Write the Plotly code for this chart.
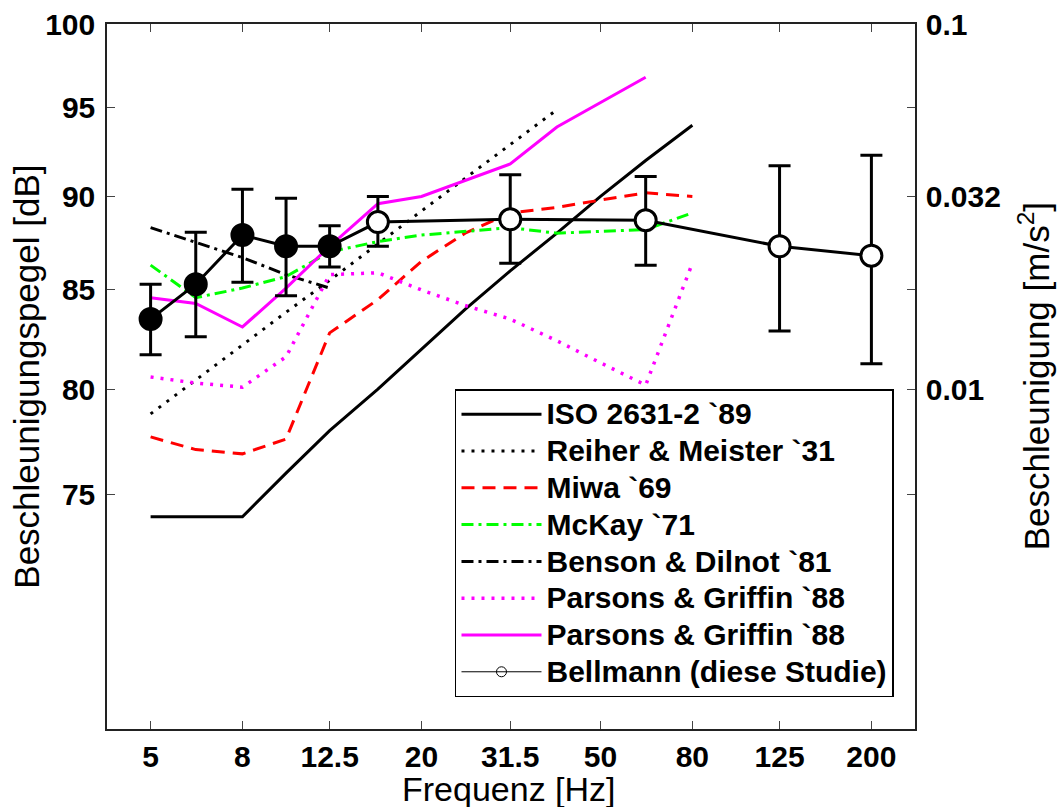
import plotly.graph_objects as go
import numpy as np

# ---------------- data ----------------
freq_13 = [5, 6.3, 8, 10, 12.5, 16, 20, 25, 31.5, 40, 50, 63, 80]

iso_freq = freq_13
iso_db = [74, 74, 74, 76, 78, 80, 82, 84, 86, 88, 90, 92, 94]

reiher_freq = [5, 6.3, 8, 10, 12.5, 16, 20, 25, 31.5, 40]
reiher_db = [78.8, 80.45, 82.2, 83.85, 85.5, 87.4, 89.2, 91.0, 92.9, 94.9]

miwa_freq = freq_13
miwa_db = [77.7, 77.1, 76.9, 77.6, 82.8, 84.5, 86.5, 88.0, 89.1, 89.4, 89.8, 90.2, 90.0]

mckay_freq = freq_13
mckay_db = [86.3, 84.6, 85.1, 85.7, 87.0, 87.55, 87.9, 88.1, 88.3, 88.0, 88.1, 88.2, 89.1]

benson_freq = [5, 6.3, 8, 10, 12.5]
benson_db = [88.3, 87.5, 86.7, 85.8, 85.1]

pg_dot_freq = freq_13
pg_dot_db = [80.6, 80.3, 80.1, 81.6, 85.8, 85.9, 85.0, 84.2, 83.5, 82.4, 81.3, 80.2, 86.4]

pg_sol_freq = [5, 6.3, 8, 10, 12.5, 16, 20, 25, 31.5, 40, 50, 63]
pg_sol_db = [84.6, 84.3, 83.1, 85.1, 87.3, 89.6, 90.0, 90.9, 91.8, 93.9, 95.3, 96.8]

bell_freq = [5, 6.3, 8, 10, 12.5, 16, 31.5, 63, 125, 200]
bell_db = [83.5, 85.3, 87.9, 87.3, 87.3, 88.6, 88.75, 88.7, 87.3, 86.8]
bell_hi = [85.3, 88.05, 90.4, 89.9, 88.4, 90.0, 91.2, 91.1, 91.7, 92.3]
bell_lo = [81.7, 82.6, 85.4, 84.7, 86.2, 87.3, 86.4, 86.3, 82.9, 81.25]
bell_filled = [True, True, True, True, True, False, False, False, False, False]

x_ticks = [5, 8, 12.5, 20, 31.5, 50, 80, 125, 200]
x_ticktext = ["5", "8", "12.5", "20", "31.5", "50", "80", "125", "200"]
y_ticks = [75, 80, 85, 90, 95, 100]
y2_ticktext = ["", "0.01", "", "0.032", "", "0.1"]

legend_names = ["ISO 2631-2 `89", "Reiher & Meister `31", "Miwa `69", "McKay `71",
                "Benson & Dilnot `81", "Parsons & Griffin `88", "Parsons & Griffin `88",
                "Bellmann (diese Studie)"]

# ---------------- figure ----------------
FONT = "Liberation Sans, Arial, Helvetica, sans-serif"
fig = go.Figure()

def lg(name):
    # legend label, drawn slightly larger than the legend row font
    return '<span style="font-size:30px">' + name + '</span>'

def line_trace(x, y, name, color, dash, width=3):
    return go.Scatter(x=x, y=y, name=lg(name), mode="lines",
                      line=dict(color=color, width=width, dash=dash))

fig.add_trace(line_trace(iso_freq, iso_db, legend_names[0], "black", "solid"))
fig.add_trace(line_trace(reiher_freq, reiher_db, legend_names[1], "black", "3px,7px"))
fig.add_trace(line_trace(miwa_freq, miwa_db, legend_names[2], "#FF0000", "13px,8px"))
fig.add_trace(line_trace(mckay_freq, mckay_db, legend_names[3], "#00FF00", "12px,5px,3px,5px"))
fig.add_trace(line_trace(benson_freq, benson_db, legend_names[4], "black", "12px,5px,3px,5px"))
fig.add_trace(line_trace(pg_dot_freq, pg_dot_db, legend_names[5], "#FF00FF", "3px,7px", 3.5))
fig.add_trace(line_trace(pg_sol_freq, pg_sol_db, legend_names[6], "#FF00FF", "solid"))

err_plus = [h - v for h, v in zip(bell_hi, bell_db)]
err_minus = [v - l for v, l in zip(bell_db, bell_lo)]
fig.add_trace(go.Scatter(
    x=bell_freq, y=bell_db, mode="lines+markers", showlegend=False,
    line=dict(color="black", width=3),
    marker=dict(size=21, symbol="circle",
                color=["black" if f else "white" for f in bell_filled],
                line=dict(color="black", width=3)),
    error_y=dict(type="data", symmetric=False, array=err_plus, arrayminus=err_minus,
                 color="black", thickness=3, width=11),
))
# legend entry for Bellmann (thin line, small open circle)
fig.add_trace(go.Scatter(x=[None], y=[None], name=lg(legend_names[7]), mode="lines+markers",
                         line=dict(color="black", width=1),
                         marker=dict(symbol="circle-open", size=10, color="black",
                                     line=dict(width=1))))
# dummy trace to activate right axis
fig.add_trace(go.Scatter(x=[None], y=[None], yaxis="y2", showlegend=False, hoverinfo="skip"))

yr = [np.log10(65), 2]
common_ax = dict(ticks="inside", ticklen=8, tickwidth=1, tickcolor="#444",
                 showline=True, linecolor="#222", linewidth=1.5,
                 showgrid=False, zeroline=False, automargin=False,
                 tickfont=dict(size=30, family=FONT, weight="bold", color="black"))
fig.update_layout(
    width=1058, height=807,
    margin=dict(l=107, r=143, t=24, b=78, autoexpand=False),
    paper_bgcolor="white", plot_bgcolor="white",
    font=dict(family=FONT, color="black"),
    showlegend=True,
    legend=dict(x=0.974, y=0.045, xanchor="right", yanchor="bottom",
                bgcolor="white", bordercolor="black", borderwidth=1.5,
                font=dict(size=26, family=FONT, color="black", weight="bold"),
                itemwidth=80, tracegroupgap=0),
    xaxis=dict(type="log", range=[np.log10(4), np.log10(250)],
               tickvals=x_ticks, ticktext=x_ticktext, mirror="ticks", **common_ax),
    yaxis=dict(type="log", range=yr, tickvals=y_ticks, ticklabelstandoff=4,
               ticktext=[str(v) for v in y_ticks], mirror=True, **common_ax),
    yaxis2=dict(type="log", range=yr, overlaying="y", side="right", ticklabelstandoff=3,
                tickvals=y_ticks, ticktext=y2_ticktext, **common_ax),
    annotations=[
        dict(text="Frequenz [Hz]", xref="paper", yref="paper", x=0.497, y=-0.085,
             xanchor="center", yanchor="middle", showarrow=False,
             font=dict(size=34, family=FONT)),
        dict(text="Beschleunigungspegel [dB]", xref="paper", yref="paper", x=-0.1, y=0.5,
             xanchor="center", yanchor="middle", textangle=-90, showarrow=False,
             font=dict(size=35, family=FONT)),
        dict(text="Beschleunigung [m/s<sup>2</sup>]", xref="paper", yref="paper", x=1.147, y=0.5,
             xanchor="center", yanchor="middle", textangle=-90, showarrow=False,
             font=dict(size=35, family=FONT)),
    ],
)

fig.write_html("out.html", config={"displayModeBar": False},
               post_script="document.body.style.margin='0';document.body.style.overflow='hidden';")
